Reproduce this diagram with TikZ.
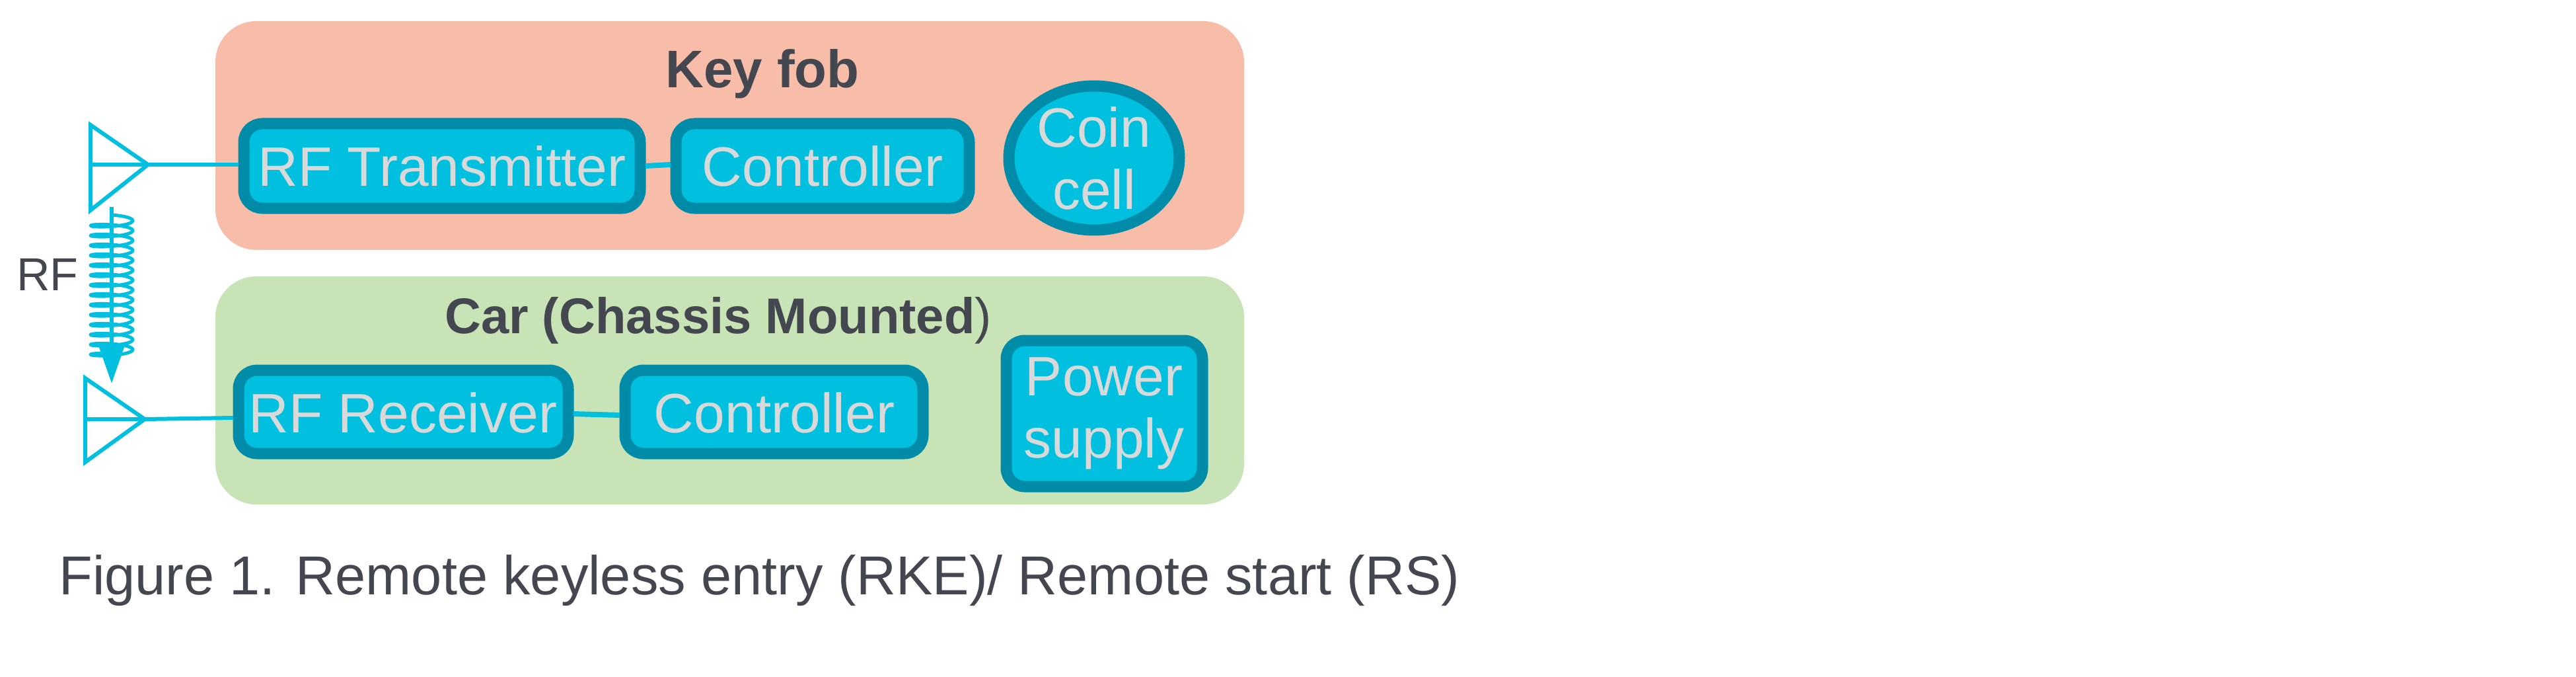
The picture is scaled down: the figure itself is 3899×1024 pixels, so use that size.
\documentclass[tikz,border=0pt]{standalone}
\usepackage{fontspec}
\setmainfont{Liberation Sans}
\usetikzlibrary{shapes.geometric,arrows.meta}
\definecolor{fob}{HTML}{F8BDA8}
\definecolor{car}{HTML}{C8E4B6}
\definecolor{blk}{HTML}{00BFDF}
\definecolor{bord}{HTML}{008CA8}
\definecolor{txt}{HTML}{D9D9D9}
\definecolor{dark}{HTML}{44474F}
\definecolor{cy}{HTML}{00BFDF}
\begin{document}
\begin{tikzpicture}[x=1pt,y=-1pt,
  group/.style={fill=#1,draw=none,rounded corners=62pt},
  blockbox/.style={fill=blk,draw=bord,line width=17pt,rounded corners=28pt},
  btxt/.style={text=txt,font=\fontsize{84}{96}\selectfont,align=center},
  ttl/.style={text=dark,font=\fontsize{76}{86}\selectfont\bfseries},
  wire/.style={cy,line width=6pt}]
\useasboundingbox (0,0) rectangle (3899,1024);
\fill[group=fob] (326,32) rectangle (1883,378);
\fill[group=car] (326,418) rectangle (1883,763);
\node[ttl,font=\fontsize{80}{90}\selectfont\bfseries] (t1) at (1154,112) {Key fob};
\node[ttl] (t2) at (1087,485) {Car (Chassis Mounted\textmd{)}};
% blocks
\draw[blockbox] (369,187) rectangle (969,315);
\node[btxt] (tx) at (669,251) {RF Transmitter};
\draw[blockbox] (1023,187) rectangle (1467,315);
\node[btxt] (c1) at (1245,251) {Controller};
\node[ellipse,fill=blk,draw=bord,line width=17pt,minimum width=258pt,minimum height=218pt] (coin) at (1656,239) {};
\node[btxt] at (coin.center) {Coin\\[-2pt]cell};
\draw[blockbox] (361,560) rectangle (860,686);
\node[btxt] (rx) at (610,624) {RF Receiver};
\draw[blockbox] (946,560) rectangle (1397,686);
\node[btxt] (c2) at (1172,624) {Controller};
\draw[blockbox] (1523,515) rectangle (1820,736);
\node[btxt] (ps) at (1671,625) {Power\\[-2pt]supply};
% antennas
\coordinate (a1) at (224,249);
\coordinate (a2) at (219,634);
\draw[wire] (137,189) -- (a1) -- (137,318) -- cycle;
\draw[wire] (137,249) -- (a1);
\draw[wire] (129,572) -- (a2) -- (129,699) -- cycle;
\draw[wire] (129,634) -- (a2);
\coordinate (txl) at (361,249);
\coordinate (rxl) at (353,632);
\draw[wire] (a1) -- (txl);
\draw[wire] (a2) -- (rxl);
\coordinate (txr) at (977,251);
\coordinate (c1l) at (1015,249);
\draw[wire,line width=8pt] (txr) -- (c1l);
\coordinate (rxr) at (868,626);
\coordinate (c2l) at (938,628);
\draw[wire,line width=8pt] (rxr) -- (c2l);
% RF wave
\coordinate (w0) at (169,313);
\coordinate (w3) at (169,580);
\draw[wire,-{Triangle[length=60pt,width=40pt]}] (w0) -- (w3);
\draw[cy,line width=5pt,line join=round] plot[domain=0:14,samples=420,smooth,variable=\t]
  ({169+32*sin(\t*360)},{330+15*\t-5*cos(\t*360)});
\node[text=dark,font=\fontsize{70}{80}\selectfont] (rf) at (72,415) {RF};
\node[text=dark,font=\fontsize{83}{94}\selectfont,anchor=west] (cap) at (86,878) {Figure 1. Remote keyless entry (RKE)/ Remote start (RS)};
\end{tikzpicture}
\end{document}
